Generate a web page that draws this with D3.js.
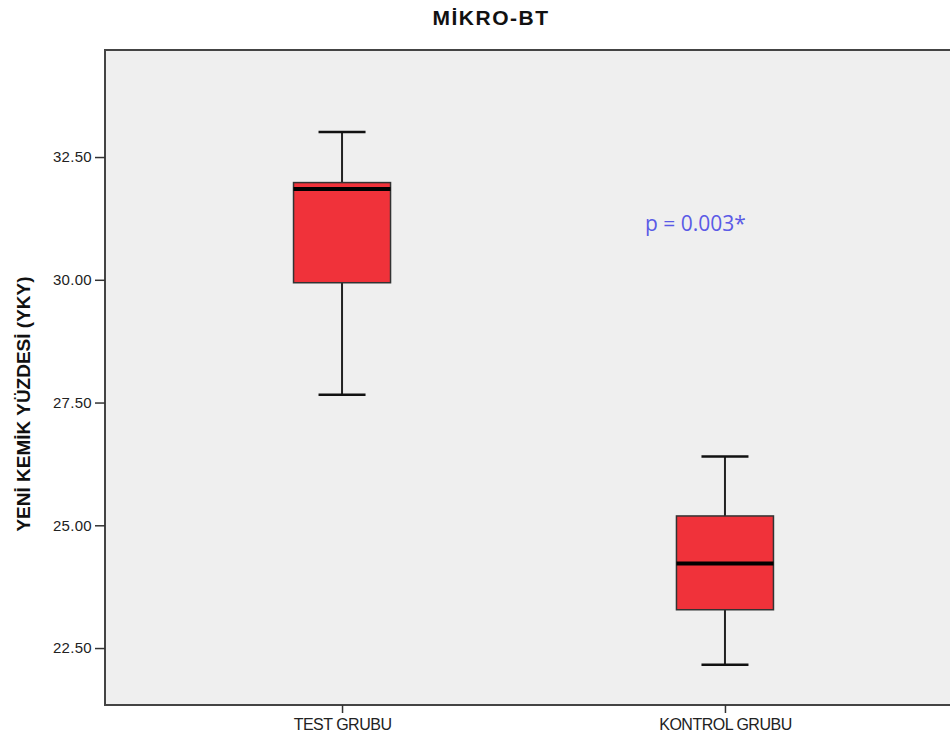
<!DOCTYPE html>
<meta charset="utf-8">
<style>
  body { margin: 0; background: #fff; }
  .axis path, .axis line { fill: none; stroke: #333; stroke-width: 1.5px; }
  .axis text { font-family: "Liberation Sans", Arial, sans-serif; fill: #222; }
</style>
<div class="chart"></div>
<script src="https://cdn.jsdelivr.net/npm/d3@7"></script>
<script>
  // data
  var groups = ["TEST GRUBU", "KONTROL GRUBU"];
  var whiskerLow  = [27.66, 22.16];
  var q1          = [29.94, 23.28];
  var medians     = [31.85, 24.22];
  var q3          = [31.98, 25.19];
  var whiskerHigh = [33.01, 26.40];
  var yTicks = [22.5, 25, 27.5, 30, 32.5];

  var title = "MİKRO-BT";
  var yLabel = "YENİ KEMİK YÜZDESİ (YKY)";
  var pText = "p = 0.003*";

  var W = 950, H = 742;
  var margin = {top: 50, right: -12, bottom: 37, left: 105};
  var width = W - margin.left - margin.right,
      height = H - margin.top - margin.bottom;

  var svg = d3.select(".chart").append("svg")
      .attr("width", W).attr("height", H);
  var g = svg.append("g")
      .attr("transform", "translate(" + margin.left + "," + margin.top + ")");

  var x = d3.scalePoint().domain(groups).range([0, width]).padding(0.619);
  var y = d3.scaleLinear().domain([21.34, 34.68]).range([height, 0]);

  // plot background
  g.append("rect").attr("width", width).attr("height", height)
      .attr("fill", "#efefef").attr("stroke", "#444").attr("stroke-width", 2);

  var yAxis = d3.axisLeft(y).tickValues(yTicks).tickSize(10).tickPadding(3)
      .tickFormat(d3.format(".2f"));
  var ya = g.append("g").attr("class", "axis").call(yAxis);
  ya.select(".domain").remove();
  ya.selectAll("text").attr("font-size", "15px").attr("letter-spacing", "0.3px").attr("fill", "#333");

  var xAxis = d3.axisBottom(x).tickSize(8).tickPadding(6);
  var xa = g.append("g").attr("class", "axis")
      .attr("transform", "translate(0," + height + ")").call(xAxis);
  xa.select(".domain").remove();
  xa.selectAll("text").attr("font-size", "16px").attr("letter-spacing", "-0.5px").attr("fill", "#111");

  var boxW = 97, capW = 47;
  var rows = groups.map(function(d, i) {
    return {g: d, lo: whiskerLow[i], q1: q1[i], med: medians[i], q3: q3[i], hi: whiskerHigh[i]};
  });

  var box = g.selectAll(".box").data(rows).enter().append("g")
      .attr("transform", function(d) { return "translate(" + x(d.g) + ",0)"; });

  box.append("line").attr("x1", 0).attr("x2", 0)
      .attr("y1", function(d) { return y(d.hi); }).attr("y2", function(d) { return y(d.lo); })
      .attr("stroke", "#222").attr("stroke-width", 2);
  box.append("line").attr("x1", -capW / 2).attr("x2", capW / 2)
      .attr("y1", function(d) { return y(d.hi); }).attr("y2", function(d) { return y(d.hi); })
      .attr("stroke", "#111").attr("stroke-width", 2.5);
  box.append("line").attr("x1", -capW / 2).attr("x2", capW / 2)
      .attr("y1", function(d) { return y(d.lo); }).attr("y2", function(d) { return y(d.lo); })
      .attr("stroke", "#111").attr("stroke-width", 2.5);
  box.append("rect").attr("x", -boxW / 2).attr("width", boxW)
      .attr("y", function(d) { return y(d.q3); })
      .attr("height", function(d) { return y(d.q1) - y(d.q3); })
      .attr("fill", "#f0323a").attr("stroke", "#333").attr("stroke-width", 1.5);
  box.append("line").attr("x1", -boxW / 2).attr("x2", boxW / 2)
      .attr("y1", function(d) { return y(d.med); }).attr("y2", function(d) { return y(d.med); })
      .attr("stroke", "#000").attr("stroke-width", 4);

  // p value note
  g.append("text").attr("x", x(groups[1]) - 80).attr("y", y(30.99))
      .attr("font-family", "'Open Sans', 'Noto Sans', sans-serif").attr("font-size", "21px")
      .attr("fill", "#5a5ae6").text(pText);

  // title
  svg.append("text").attr("x", 491).attr("y", 25).attr("text-anchor", "middle")
      .attr("font-family", "'Liberation Sans', Arial, sans-serif").attr("font-weight", "bold")
      .attr("font-size", "21px").attr("letter-spacing", "1.5px").attr("fill", "#111").text(title);

  // y label
  svg.append("text").attr("transform", "translate(30,404) rotate(-90)")
      .attr("text-anchor", "middle")
      .attr("font-family", "'Liberation Sans', Arial, sans-serif").attr("font-weight", "bold")
      .attr("font-size", "19px").attr("fill", "#111").text(yLabel);
</script>
